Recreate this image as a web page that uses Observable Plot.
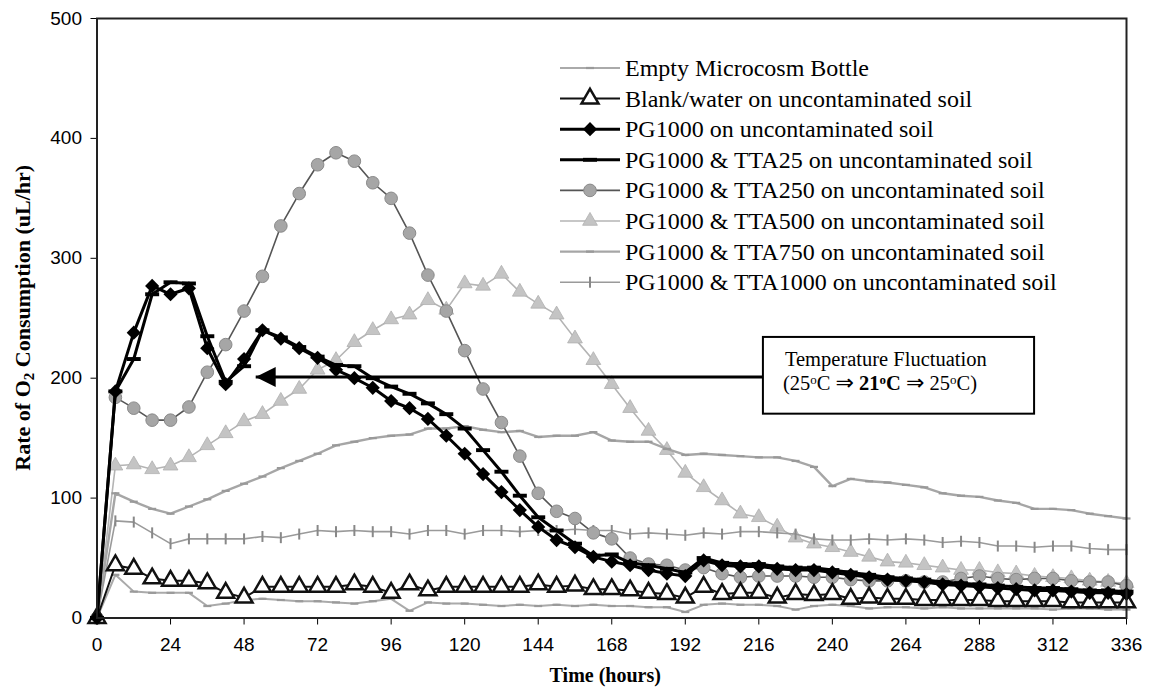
<!DOCTYPE html>
<html><head><meta charset="utf-8">
<script src="https://cdn.jsdelivr.net/npm/d3@7"></script>
<script src="https://cdn.jsdelivr.net/npm/@observablehq/plot@0.6"></script>
<style>
body{margin:0;background:#fff;}
#chart{position:relative;width:1151px;height:688px;overflow:hidden;}
</style></head><body><div id="chart"></div>
<script>
// ---------- DATA ----------
const hours = [0,6,12,18,24,30,36,42,48,54,60,66,72,78,84,90,96,102,108,114,120,126,132,138,144,150,156,162,168,174,180,186,192,198,204,210,216,222,228,234,240,246,252,258,264,270,276,282,288,294,300,306,312,318,324,330,336];

const emptyBottle = [0,36,22,21,21,21,10,12,15,16, 15,14,14,13,12,14,16,6,13,12, 12,11,10,11,10,11,10,11,10,10, 9,9,5,11,12,11,11,10,7,10, 11,10,8,9,9,8,9,8,8,8, 8,8,7,8,8,7,7];
const blankWater = [0,44,41,33,31,31,29,21,17,26, 26,26,26,26,28,26,21,28,23,26, 26,26,26,26,28,26,27,24,24,23, 21,20,17,26,20,21,21,17,20,19, 20,16,17,16,16,15,15,15,15,14, 14,14,14,13,13,13,13];
const pg1000 = [0,189,238,277,270,275,225,195,216,240, 233,225,217,207,200,192,181,175,166,152, 137,120,105,90,76,65,59,51,47,44, 40,37,35,48,44,43,43,41,40,40, 38,36,34,32,31,30,28,27,26,25, 24,23,23,22,21,21,20];
const tta25 = [0,189,216,270,280,279,235,197,210,240, 234,226,218,211,210,200,193,187,179,170, 158,140,122,102,84,73,62,52,53,46, 44,41,38,50,46,45,45,43,42,42, 40,38,36,34,33,32,30,29,28,27, 26,25,25,24,23,23,22];
const tta250 = [0,184,175,165,165,176,205,228,256,285, 327,354,378,388,381,363,350,321,286,256, 223,191,163,135,104,89,83,71,66,50, 45,44,40,42,37,34,35,35,35,34, 34,32,31,31,31,30,30,33,35,33, 32,33,33,31,30,30,27];
const tta500 = [0,127,128,124,127,134,144,154,164,170, 181,191,207,215,230,240,249,253,265,257, 279,277,287,272,262,253,233,215,195,175, 156,140,121,109,98,87,84,76,67,62, 59,55,51,47,46,44,42,40,40,38, 37,35,34,33,31,30,29];
const tta750 = [0,104,97,91,87,93,99,106,112,118, 125,131,137,144,147,150,152,153,158,158, 160,157,155,156,151,152,152,155,148,147, 147,141,136,137,136,135,134,134,131,126, 110,116,114,113,111,109,104,102,101,98, 96,91,91,90,87,85,83];
const tta1000 = [0,81,80,71,62,66,66,66,66,68, 67,70,73,72,73,72,72,70,73,73, 70,73,73,72,73,73,74,73,73,70, 71,70,69,71,70,72,72,71,70,66, 65,65,66,65,66,65,63,64,63,60, 60,59,60,60,58,57,57];

const seriesLabels = [
  "Empty Microcosm Bottle",
  "Blank/water on uncontaminated soil",
  "PG1000 on uncontaminated soil",
  "PG1000 & TTA25 on uncontaminated soil",
  "PG1000 & TTA250 on uncontaminated soil",
  "PG1000 & TTA500 on uncontaminated soil",
  "PG1000 & TTA750 on uncontaminated soil",
  "PG1000 & TTA1000 on uncontaminated soil"
];
const seriesValues = [emptyBottle, blankWater, pg1000, tta25, tta250, tta500, tta750, tta1000];

const xTicks = [0,24,48,72,96,120,144,168,192,216,240,264,288,312,336];
const yTicks = [0,100,200,300,400,500];

// annotation (data units)
const noteText1 = "Temperature Fluctuation";
const noteBox = {x1: 217.5, x2: 306, y1: 170, y2: 234};
const noteArrow = {x1: 217.5, x2: 51.8, y: 201};

// ---------- SYMBOLS ----------
const hDash = {draw(ctx, size){const r=Math.sqrt(size/Math.PI); const h=r*0.28; ctx.moveTo(-r,-h); ctx.lineTo(r,-h); ctx.lineTo(r,h); ctx.lineTo(-r,h); ctx.closePath();}};
const vTick = {draw(ctx, size){const r=Math.sqrt(size/Math.PI); ctx.moveTo(0,-r); ctx.lineTo(0,r);}};
const leftHead = {draw(ctx, size){const r=Math.sqrt(size/Math.PI); ctx.moveTo(0,0); ctx.lineTo(2*r,-r); ctx.lineTo(2*r,r); ctx.closePath();}};

// ---------- STYLES ----------
const styles = [
  {line:"#aaaaaa", lw:2,   symbol:hDash,      r:4,   fill:"#9a9a9a", stroke:"none",   sw:0},
  {line:"#111111", lw:2,   symbol:"triangle", r:6.3, fill:"#ffffff", stroke:"#111", sw:2.5},
  {line:"#000000", lw:3,   symbol:"diamond2", r:6.4, fill:"#000000", stroke:"none",   sw:0},
  {line:"#000000", lw:3,   symbol:hDash,      r:7,   fill:"#000000", stroke:"none",   sw:0},
  {line:"#555555", lw:1.6, symbol:"circle",   r:6.3, fill:"#a6a6a6", stroke:"#8a8a8a", sw:1},
  {line:"#b4b4b4", lw:1.6, symbol:"triangle", r:5.5, fill:"#c4c4c4", stroke:"#b0b0b0", sw:0.8},
  {line:"#a6a6a6", lw:2.4, symbol:hDash,      r:4,   fill:"#999999", stroke:"none",   sw:0},
  {line:"#9a9a9a", lw:1.6, symbol:vTick,      r:5.5, fill:"none",    stroke:"#888888", sw:2}
];
const drawOrder = [5,6,7,0,4,1,3,2];

const W = 1151, H = 688, mL = 96.5, mR = 25, mT = 18, mB = 70.5;

const marks = [];
for (const k of drawOrder) {
  const s = styles[k];
  const rows = hours.map((h,i)=>({h, v: seriesValues[k][i]}));
  marks.push(Plot.line(rows, {x:"h", y:"v", stroke:s.line, strokeWidth:s.lw}));
  marks.push(Plot.dot(rows, {x:"h", y:"v", symbol:s.symbol, r:s.r, fill:s.fill, stroke:s.stroke, strokeWidth:s.sw}));
}
// annotation box and arrow
marks.push(Plot.link([noteArrow], {x1:"x1", x2:"x2", y1:"y", y2:"y", stroke:"#000", strokeWidth:3}));
marks.push(Plot.dot([noteArrow], {x:"x2", y:"y", symbol:leftHead, r:10, fill:"#000", stroke:"none"}));
marks.push(Plot.rect([noteBox], {x1:"x1", x2:"x2", y1:"y1", y2:"y2", fill:"#fff", stroke:"#000", strokeWidth:2}));

const chart = Plot.plot({
  width: W, height: H,
  marginLeft: mL, marginRight: mR, marginTop: mT, marginBottom: mB,
  x: {domain:[0,336]},
  y: {domain:[0,500]},
  style: {fontFamily:'"Liberation Sans", Arial, sans-serif', fontSize:"19px", color:"#000", background:"#fff"},
  marks: [
    Plot.axisX(xTicks, {tickSize:7, tickPadding:12, fontSize:19, label:null}),
    Plot.axisY(yTicks, {tickSize:6, tickPadding:9, fontSize:19, label:null}),
    ...marks,
    Plot.frame({stroke:"#222", strokeWidth:2})
  ]
});
document.getElementById("chart").appendChild(chart);

// ---------- overlays (text, legend) ----------
const svg = d3.select(chart);
const sx = d3.scaleLinear([0,336],[mL, W-mR]);
const sy = d3.scaleLinear([0,500],[H-mB, mT]);
const serif = '"Liberation Serif", "Times New Roman", serif';

// annotation text
const bx = sx(noteBox.x1) + 22;
svg.append("text").attr("x", bx).attr("y", sy(noteBox.y2) + 29).attr("text-anchor","start")
  .attr("font-family", serif).attr("font-size", 20.5).attr("fill","#000").text(noteText1);
const t2 = svg.append("text").attr("x", bx - 2).attr("y", sy(noteBox.y2) + 53).attr("text-anchor","start")
  .attr("font-family", serif).attr("font-size", 20.5).attr("fill","#000");
const parts = [
  ["(25",null,false],["o","sup",false],["C ",null,false],["\u21D2","arrow",false],[" ",null,false],
  ["21",null,true],["o","sup",true],["C",null,true],
  [" ",null,false],["\u21D2","arrow",false],[" 25",null,false],["o","sup",false],["C)",null,false]
];
for (const [txt, kind, bold] of parts) {
  const sp = t2.append("tspan").text(txt);
  if (bold) sp.attr("font-weight","bold");
  if (kind === "sup") sp.attr("font-size", 13).attr("baseline-shift","45%");
  if (kind === "arrow") sp.attr("font-size", 22).attr("font-family",'"DejaVu Sans", sans-serif');
}

// legend
const lg = svg.append("g");
seriesLabels.forEach((lab, i) => {
  const s = styles[i];
  const y = 68 + i*30.6;
  lg.append("line").attr("x1",560).attr("x2",620).attr("y1",y).attr("y2",y)
    .attr("stroke", s.line).attr("stroke-width", s.lw);
  const symType = typeof s.symbol === "string"
    ? ({triangle:d3.symbolTriangle, diamond2:d3.symbolDiamond2, circle:d3.symbolCircle})[s.symbol]
    : s.symbol;
  lg.append("path").attr("transform",`translate(590,${y})`)
    .attr("d", d3.symbol(symType, Math.PI*s.r*s.r)())
    .attr("fill", s.fill).attr("stroke", s.stroke).attr("stroke-width", s.sw);
  lg.append("text").attr("x",625).attr("y", y + 8).attr("text-anchor","start")
    .attr("font-family", serif).attr("font-size", 24).attr("fill","#000").text(lab);
});

// axis titles
const yt = svg.append("text").attr("transform",`translate(30,${(mT + H - mB)/2}) rotate(-90)`)
  .attr("text-anchor","middle").attr("font-family", serif).attr("font-size", 22)
  .attr("font-weight","bold").attr("fill","#000");
yt.append("tspan").text("Rate of O");
yt.append("tspan").text("2").attr("font-size", 15).attr("baseline-shift","-25%");
yt.append("tspan").text(" Consumption (uL/hr)");
svg.append("text").attr("x",(mL + W - mR)/2 - 6).attr("y", 682)
  .attr("text-anchor","middle").attr("font-family", serif).attr("font-size", 20)
  .attr("font-weight","bold").attr("fill","#000").text("Time (hours)");
</script>
</body></html>
